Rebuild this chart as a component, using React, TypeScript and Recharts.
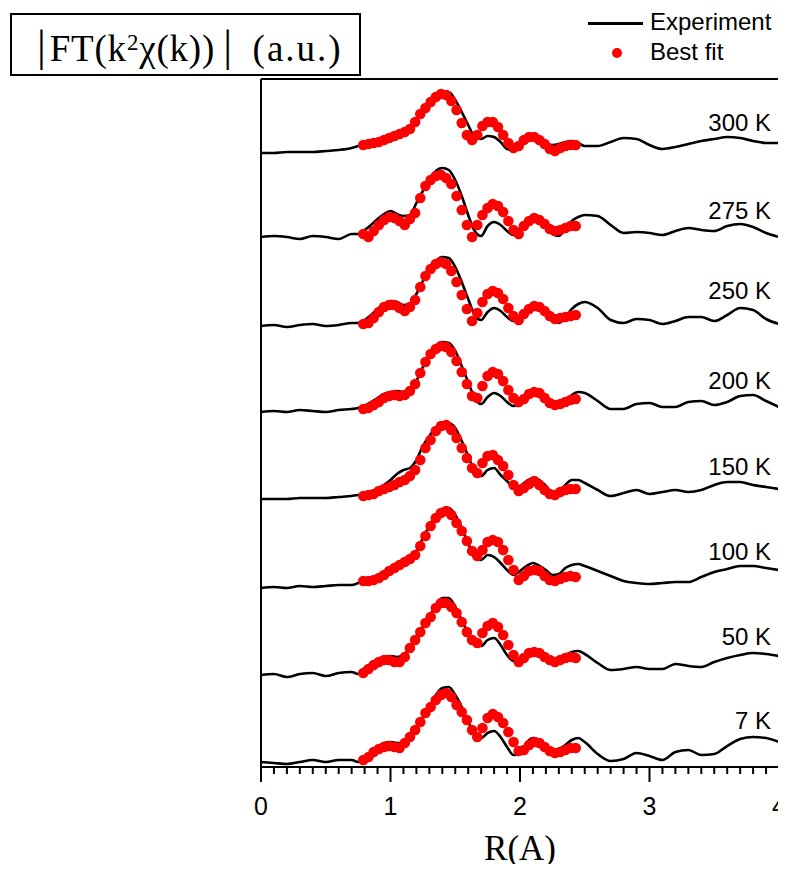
import React from "react";
import {
  ComposedChart,
  Line,
  Scatter,
  XAxis,
  YAxis,
  ReferenceLine,
  ReferenceDot,
} from "recharts";

// R grid of the measured curves (coarser outside the fitted window)
const rExp = [
  0, 0.1, 0.2, 0.3, 0.4, 0.5, 0.6, 0.7, 0.75,
  0.8, 0.85, 0.9, 0.95, 1.0, 1.05, 1.1, 1.15, 1.2, 1.25,
  1.3, 1.35, 1.4, 1.45, 1.5, 1.55, 1.6, 1.65, 1.7, 1.75,
  1.8, 1.85, 1.9, 1.95, 2.0, 2.05, 2.1, 2.15, 2.2, 2.25,
  2.3, 2.35, 2.4, 2.45, 2.5,
  2.6, 2.7, 2.8, 2.9, 3.0, 3.1, 3.2, 3.3, 3.4, 3.5, 3.6, 3.7, 3.8, 3.9, 4.0,
];

// R grid of the fitted points
const rFit = [
  0.79, 0.83, 0.87, 0.91, 0.95, 0.99, 1.03, 1.07, 1.11, 1.15,
  1.19, 1.23, 1.27, 1.31, 1.35, 1.39, 1.43, 1.47, 1.51, 1.55,
  1.59, 1.63, 1.67, 1.71, 1.75, 1.79, 1.83, 1.87, 1.91, 1.95,
  1.99, 2.03, 2.07, 2.11, 2.15, 2.19, 2.23, 2.27, 2.31, 2.35,
  2.39, 2.43,
];

const temps = ["300 K", "275 K", "250 K", "200 K", "150 K", "100 K", "50 K", "7 K"];

// vertical stacking offset of each temperature (a.u.)
const offsets = [614, 530, 441, 355, 268, 179, 92, 5];

// |FT| experiment, a.u. above each curve's own offset
const exp300 = [
  0, 0, 1, 1, 1, 2, 3, 5, 7,
  9, 10, 11, 14, 17, 20, 24, 26, 33, 41,
  50, 56, 61, 61, 53, 41, 28, 16, 14, 17,
  16, 11, 4, 3, 8, 13, 15, 13, 10, 8,
  9, 11, 12, 10, 7,
  7, 11, 15, 14, 8, 4, 6, 9, 12, 14, 16, 15, 12, 10, 10,
];
const exp275 = [
  0, 1, 0, -2, 1, 0, -2, 3, 3,
  7, 12, 18, 23, 26, 23, 21, 22, 34, 46,
  57, 66, 69, 67, 57, 41, 22, 6, 1, 11,
  15, 12, 6, 2, 9, 17, 21, 19, 12, 3,
  1, 9, 16, 20, 22,
  21, 12, 4, 5, 4, 2, 6, 9, 7, 6, 11, 13, 10, 4, 0,
];
const exp250 = [
  0, 1, -1, 1, 2, 0, 1, 3, 3,
  6, 11, 17, 22, 25, 24, 21, 22, 32, 45,
  56, 65, 69, 68, 59, 44, 27, 11, 6, 14,
  18, 15, 9, 5, 9, 17, 22, 21, 14, 6,
  3, 9, 17, 22, 24,
  18, 6, 3, 7, 6, 2, 5, 9, 9, 5, 11, 18, 16, 7, 2,
];
const exp200 = [
  0, 1, 0, 2, 1, 0, 2, 3, 4,
  6, 10, 14, 18, 20, 21, 20, 22, 31, 45,
  57, 66, 70, 69, 61, 46, 30, 14, 8, 15,
  19, 16, 10, 6, 9, 16, 21, 21, 15, 8,
  6, 11, 17, 20, 19,
  11, 3, 3, 8, 9, 5, 5, 10, 11, 7, 10, 16, 17, 11, 5,
];
const exp150 = [
  0, 0, 0, 1, 1, 1, 2, 3, 4,
  4, 6, 9, 14, 19, 25, 29, 31, 39, 53,
  63, 71, 75, 76, 71, 58, 43, 28, 23, 29,
  31, 24, 18, 12, 13, 18, 21, 19, 13, 6,
  7, 14, 19, 19, 16,
  9, 3, 6, 9, 5, 7, 9, 7, 9, 14, 17, 17, 14, 12, 10,
];
const exp100 = [
  0, 1, 0, 2, 1, 2, 3, 3, 5,
  8, 8, 11, 15, 20, 25, 28, 31, 37, 50,
  62, 73, 79, 80, 73, 60, 45, 30, 28, 33,
  31, 25, 18, 13, 17, 22, 25, 22, 18, 13,
  14, 20, 23, 24, 22,
  17, 12, 7, 5, 4, 5, 6, 6, 11, 16, 19, 22, 22, 20, 18,
];
const exp50 = [
  0, 1, -2, 1, 2, -1, 2, 3, 1,
  7, 11, 16, 18, 19, 18, 20, 28, 38, 48,
  58, 70, 77, 77, 68, 55, 42, 30, 29, 35,
  37, 30, 20, 14, 15, 20, 24, 22, 18, 16,
  17, 20, 23, 24, 21,
  12, 5, 6, 8, 6, 6, 11, 9, 8, 13, 17, 20, 22, 21, 19,
];
const exp7 = [
  0, -1, -2, 0, 2, 0, 2, 2, 0,
  4, 9, 15, 19, 20, 19, 19, 24, 32, 44,
  55, 67, 74, 75, 67, 55, 40, 29, 24, 29,
  31, 25, 15, 7, 8, 19, 24, 22, 16, 12,
  13, 17, 22, 24, 20,
  8, 1, 3, 9, 6, 2, 10, 12, 7, 8, 16, 23, 25, 24, 20,
];

// best fit, same units
const fit300 = [
  8, 9, 10, 11, 13, 15, 17, 19, 21, 24,
  31, 39, 45, 51, 56, 59, 58, 52, 43, 30,
  18, 13, 18, 27, 31, 31, 26, 18, 10, 5,
  7, 13, 16, 16, 13, 9, 4, 2, 5, 7,
  8, 8,
];
const fit275 = [
  3, 0, 6, 12, 17, 20, 19, 16, 12, 18,
  24, 39, 51, 57, 61, 62, 59, 53, 41, 27,
  12, 0, 12, 22, 29, 33, 31, 25, 16, 7,
  3, 11, 16, 19, 17, 13, 8, 6, 7, 9,
  11, 11,
];
const fit250 = [
  2, 3, 8, 14, 19, 21, 21, 18, 15, 19,
  26, 39, 50, 57, 62, 64, 62, 55, 44, 31,
  17, 5, 13, 24, 32, 35, 33, 27, 18, 10,
  6, 12, 17, 20, 19, 15, 10, 7, 8, 9,
  10, 11,
];
const fit200 = [
  3, 4, 7, 10, 14, 16, 17, 16, 17, 21,
  28, 39, 50, 58, 63, 66, 65, 60, 51, 40,
  28, 16, 14, 26, 36, 40, 38, 31, 22, 14,
  10, 13, 18, 20, 19, 14, 9, 7, 8, 10,
  12, 13,
];
const fit150 = [
  3, 4, 5, 8, 10, 12, 14, 17, 19, 23,
  29, 39, 51, 59, 68, 73, 74, 69, 61, 51,
  41, 31, 26, 36, 43, 44, 39, 33, 24, 14,
  8, 11, 15, 18, 14, 9, 5, 4, 7, 9,
  10, 10,
];
const fit100 = [
  7, 7, 8, 10, 13, 17, 20, 23, 26, 29,
  33, 42, 52, 62, 70, 75, 77, 73, 65, 57,
  47, 37, 32, 38, 46, 48, 46, 38, 28, 18,
  8, 12, 17, 18, 17, 12, 8, 7, 9, 11,
  12, 11,
];
const fit50 = [
  2, 6, 10, 13, 15, 15, 13, 13, 18, 27,
  35, 43, 52, 58, 67, 72, 72, 68, 62, 53,
  43, 35, 32, 42, 49, 52, 48, 40, 30, 20,
  13, 17, 22, 23, 22, 18, 15, 13, 15, 17,
  18, 17,
];
const fit7 = [
  2, 5, 10, 13, 15, 16, 15, 14, 19, 25,
  32, 40, 49, 55, 62, 67, 69, 65, 57, 50,
  42, 32, 25, 34, 44, 48, 45, 39, 30, 20,
  11, 12, 17, 20, 19, 15, 11, 9, 10, 12,
  14, 14,
];

const expSets = [exp300, exp275, exp250, exp200, exp150, exp100, exp50, exp7];
const fitSets = [fit300, fit275, fit250, fit200, fit150, fit100, fit50, fit7];

const SANS = "'Liberation Sans', Arial, Helvetica, sans-serif";
const SERIF = "'Liberation Serif', 'Times New Roman', Times, serif";
const Y_MAX = 688;

// where each temperature tag sits above its curve's offset
const tagLift = [31, 27, 36, 32, 33, 37, 39, 42];

const rTicks = Array.from({ length: 41 }, (_, i) => i / 10);

const curves = temps.map((t, i) => ({
  name: t,
  exp: rExp.map((r, j) => ({ r, v: offsets[i] + expSets[i][j] })),
  fit: rFit.map((r, j) => ({ r, v: offsets[i] + fitSets[i][j] })),
}));

const AxisTick = (props: any) => {
  const { x, y, payload } = props;
  const v = payload.value;
  const major = Math.abs(v - Math.round(v)) < 1e-6;
  return (
    <g>
      <line x1={x} y1={y} x2={x} y2={y + (major ? 15 : 7)} stroke="#000" strokeWidth={2} />
      {major && (
        <text x={x} y={y + 48} textAnchor="middle" fontSize={25} fontFamily={SANS} fill="#000">
          {Math.round(v)}
        </text>
      )}
    </g>
  );
};

const FitDot = (props: any) => <circle cx={props.cx} cy={props.cy} r={5.3} fill="#ff0000" />;

const bar = { fontSize: 44, lineHeight: 0, letterSpacing: 0 };

export default function App() {
  return (
    // cancel the body margin so the page is exactly the chart's size
    <div style={{ position: "relative", width: 786, height: 872, margin: -8, overflow: "hidden", background: "#fff" }}>
      <ComposedChart width={786} height={872} margin={{ top: 79, right: 7, left: 261, bottom: 0 }}>
        <XAxis
          type="number"
          dataKey="r"
          domain={[0, 4]}
          ticks={rTicks}
          interval={0}
          tickSize={0}
          tickMargin={0}
          tickLine={false}
          tick={<AxisTick />}
          height={105}
          axisLine={{ stroke: "#000", strokeWidth: 2 }}
          label={{
            value: "R(A)",
            position: "insideBottom",
            offset: 12,
            fontSize: 35,
            fontFamily: SERIF,
            fill: "#000",
          }}
        />
        <YAxis type="number" dataKey="v" domain={[0, Y_MAX]} allowDataOverflow hide />
        <ReferenceLine x={0} stroke="#000" strokeWidth={2} />
        <ReferenceLine x={4} stroke="#000" strokeWidth={2} />
        <ReferenceLine y={Y_MAX} stroke="#000" strokeWidth={2} />

        {curves.map((c) => (
          <Line
            key={"exp-" + c.name}
            data={c.exp}
            dataKey="v"
            type="monotone"
            stroke="#000"
            strokeWidth={2.6}
            dot={false}
            activeDot={false}
            isAnimationActive={false}
          />
        ))}
        {curves.map((c) => (
          <Scatter
            key={"fit-" + c.name}
            data={c.fit}
            dataKey="v"
            shape={<FitDot />}
            isAnimationActive={false}
          />
        ))}
        {curves.map((c, i) => (
          <ReferenceDot
            key={"tag-" + c.name}
            x={4}
            y={offsets[i] + tagLift[i]}
            r={0}
            fill="none"
            stroke="none"
            label={{
              value: c.name,
              position: "left",
              offset: 8,
              fontSize: 24,
              fontFamily: SANS,
              fill: "#000",
            }}
          />
        ))}
      </ComposedChart>

      {/* y-axis caption box */}
      <div
        style={{
          position: "absolute",
          left: 10,
          top: 13,
          width: 347,
          height: 59,
          border: "2px solid #000",
          fontFamily: SERIF,
          fontSize: 37,
          lineHeight: "37px",
          letterSpacing: 0.8,
          color: "#000",
          whiteSpace: "nowrap",
        }}
      >
        <div style={{ position: "absolute", left: 25, top: 9 }}>
          <span style={bar}>|</span>
          {"\u200aFT(k"}
          <span style={{ fontSize: "0.62em", verticalAlign: "0.5em" }}>2</span>
          {"\u03c7(k))\u2009"}
          <span style={bar}>|</span>
          <span style={{ letterSpacing: 2 }}>{"\u2002(a.u.)"}</span>
        </div>
      </div>

      {/* legend */}
      <div style={{ position: "absolute", left: 588, top: 21.5, width: 55, height: 3, background: "#000" }} />
      <div
        style={{
          position: "absolute",
          left: 650,
          top: 10.4,
          fontFamily: SANS,
          fontSize: 24,
          lineHeight: "24px",
          color: "#000",
        }}
      >
        Experiment
      </div>
      <div
        style={{
          position: "absolute",
          left: 612,
          top: 47.7,
          width: 10,
          height: 10,
          borderRadius: "50%",
          background: "#ff0000",
        }}
      />
      <div
        style={{
          position: "absolute",
          left: 650,
          top: 40.4,
          fontFamily: SANS,
          fontSize: 24,
          lineHeight: "24px",
          color: "#000",
        }}
      >
        Best fit
      </div>
    </div>
  );
}
